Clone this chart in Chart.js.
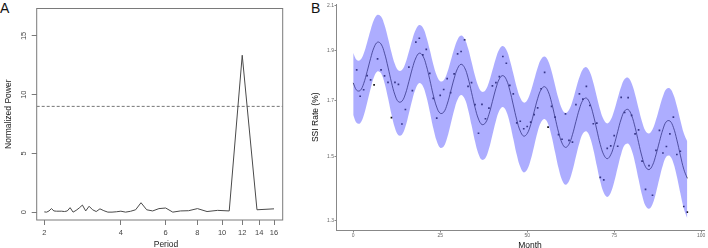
<!DOCTYPE html>
<html>
<head>
<meta charset="utf-8">
<script src="https://cdn.jsdelivr.net/npm/chart.js@4.4.1/dist/chart.umd.min.js"></script>
<style>
  html, body { margin: 0; padding: 0; background: #fff; width: 708px; height: 248px; overflow: hidden; }
  body { font-family: "Liberation Sans", Arial, sans-serif; }
  #wrap-a { position: absolute; left: 0; top: 0; width: 295px; height: 248px; }
  #wrap-b { position: absolute; left: 296px; top: 0; width: 412px; height: 248px; }
  .tag { position: absolute; font-size: 14px; line-height: 14px; color: #111; }
  .xtitle { position: absolute; font-size: 8.5px; line-height: 10px; color: #222; transform: translateX(-50%); white-space: nowrap; }
</style>
</head>
<body>
<div class="tag" style="left:0px;top:1.4px">A</div>
<div class="tag" style="left:311px;top:1.4px">B</div>
<div id="wrap-a"><canvas id="chart-a"></canvas></div>
<div id="wrap-b"><canvas id="chart-b"></canvas></div>
<div class="xtitle" style="left:166px;top:239.3px">Period</div>
<div class="xtitle" style="left:530px;top:240px;color:#111">Month</div>
<script>
// ---- Panel A: periodogram ----
const periodsA = [2.000, 2.043, 2.087, 2.133, 2.182, 2.233, 2.286, 2.341, 2.400, 2.462,
  2.526, 2.595, 2.667, 2.743, 2.824, 2.909, 3.000, 3.097, 3.200, 3.310,
  3.429, 3.556, 3.692, 3.840, 4.000, 4.174, 4.364, 4.571, 4.800, 5.053,
  5.333, 5.647, 6.000, 6.400, 6.857, 7.385, 8.000, 8.727, 9.600, 10.667,
  12.000, 13.714, 16.000];
const powerA = [0.02, 0.0, 0.1, 0.3, 0.1, 0.08, 0.08, 0.08, 0.05, 0.1,
  0.38, 0.0, 0.15, 0.35, 0.6, 0.1, 0.5, 0.2, 0.05, 0.28,
  0.12, 0.0, 0.0, 0.03, 0.08, 0.0, 0.07, 0.2, 0.8, 0.2,
  0.1, 0.3, 0.35, 0.0, 0.1, 0.12, 0.3, 0.05, 0.15, 0.1,
  13.35, 0.2, 0.28];
const thresholdA = 9;
const periodTicks = [2, 4, 6, 8, 10, 12, 14, 16];
const powerTicks = [0, 5, 10, 15];
const periodRange = [1.867, 17.31];
const powerRange = [-0.67, 17.33];

// ---- Panel B: SSI rate by month ----
const monthsFit = [0, 1, 2, 3, 4, 5, 6, 7, 8, 9, 10, 11, 12, 13, 14, 15, 16, 17, 18, 19,
  20, 21, 22, 23, 24, 25, 26, 27, 28, 29, 30, 31, 32, 33, 34, 35, 36, 37, 38, 39,
  40, 41, 42, 43, 44, 45, 46, 47, 48, 49, 50, 51, 52, 53, 54, 55, 56, 57, 58, 59,
  60, 61, 62, 63, 64, 65, 66, 67, 68, 69, 70, 71, 72, 73, 74, 75, 76, 77, 78, 79,
  80, 81, 82, 83, 84, 85, 86, 87, 88, 89, 90, 91, 92, 93, 94, 95, 96];
const ssiFit = [1.768, 1.739, 1.738, 1.765, 1.813, 1.867, 1.914, 1.936, 1.928, 1.889,
  1.831, 1.770, 1.721, 1.695, 1.697, 1.725, 1.773, 1.826, 1.869, 1.889,
  1.878, 1.838, 1.781, 1.721, 1.675, 1.652, 1.656, 1.686, 1.734, 1.785,
  1.826, 1.843, 1.829, 1.788, 1.731, 1.674, 1.631, 1.611, 1.617, 1.648,
  1.696, 1.746, 1.784, 1.797, 1.781, 1.739, 1.683, 1.628, 1.588, 1.570,
  1.579, 1.611, 1.658, 1.707, 1.742, 1.753, 1.735, 1.692, 1.637, 1.584,
  1.546, 1.531, 1.542, 1.575, 1.622, 1.668, 1.701, 1.709, 1.689, 1.646,
  1.592, 1.541, 1.506, 1.493, 1.506, 1.540, 1.586, 1.631, 1.661, 1.666,
  1.644, 1.601, 1.548, 1.499, 1.466, 1.457, 1.471, 1.506, 1.551, 1.594,
  1.622, 1.624, 1.601, 1.557, 1.505, 1.458, 1.429];
const ssiUpper = [1.890, 1.861, 1.860, 1.887, 1.935, 1.989, 2.036, 2.058, 2.050, 2.011,
  1.953, 1.892, 1.843, 1.817, 1.819, 1.847, 1.895, 1.948, 1.991, 2.011,
  2.000, 1.960, 1.903, 1.843, 1.797, 1.774, 1.778, 1.808, 1.856, 1.907,
  1.948, 1.965, 1.951, 1.910, 1.853, 1.796, 1.753, 1.733, 1.739, 1.770,
  1.818, 1.868, 1.906, 1.919, 1.903, 1.861, 1.805, 1.750, 1.710, 1.692,
  1.701, 1.733, 1.780, 1.829, 1.864, 1.875, 1.857, 1.814, 1.759, 1.706,
  1.668, 1.653, 1.664, 1.697, 1.744, 1.790, 1.823, 1.831, 1.811, 1.768,
  1.714, 1.663, 1.628, 1.615, 1.628, 1.662, 1.708, 1.753, 1.783, 1.788,
  1.766, 1.723, 1.670, 1.621, 1.588, 1.579, 1.593, 1.628, 1.673, 1.716,
  1.744, 1.746, 1.723, 1.679, 1.627, 1.580, 1.551];
const ssiLower = [1.646, 1.617, 1.616, 1.643, 1.691, 1.745, 1.792, 1.814, 1.806, 1.767,
  1.709, 1.648, 1.599, 1.573, 1.575, 1.603, 1.651, 1.704, 1.747, 1.767,
  1.756, 1.716, 1.659, 1.599, 1.553, 1.530, 1.534, 1.564, 1.612, 1.663,
  1.704, 1.721, 1.707, 1.666, 1.609, 1.552, 1.509, 1.489, 1.495, 1.526,
  1.574, 1.624, 1.662, 1.675, 1.659, 1.617, 1.561, 1.506, 1.466, 1.448,
  1.457, 1.489, 1.536, 1.585, 1.620, 1.631, 1.613, 1.570, 1.515, 1.462,
  1.424, 1.409, 1.420, 1.453, 1.500, 1.546, 1.579, 1.587, 1.567, 1.524,
  1.470, 1.419, 1.384, 1.371, 1.384, 1.418, 1.464, 1.509, 1.539, 1.544,
  1.522, 1.479, 1.426, 1.377, 1.344, 1.335, 1.349, 1.384, 1.429, 1.472,
  1.500, 1.502, 1.479, 1.435, 1.383, 1.336, 1.307];
const monthsObs = [1, 2, 3, 4, 5, 6, 7, 8, 9, 10, 11, 12, 13, 14, 15, 16, 17, 18, 19, 20,
  21, 22, 23, 24, 25, 26, 27, 28, 29, 30, 31, 32, 33, 34, 35, 36, 37, 38, 39, 40,
  41, 42, 43, 44, 45, 46, 47, 48, 49, 50, 51, 52, 53, 54, 55, 56, 57, 58, 59, 60,
  61, 62, 63, 64, 65, 66, 67, 68, 69, 70, 71, 72, 73, 74, 75, 76, 77, 78, 79, 80,
  81, 82, 83, 84, 85, 86, 87, 88, 89, 90, 91, 92, 93, 94, 95, 96];
const ssiObs = [1.820, 1.716, 1.741, 1.797, 1.780, 1.760, 1.865, 1.820, 1.796, 1.770,
  1.636, 1.770, 1.762, 1.613, 1.666, 1.831, 1.738, 1.936, 1.953, 1.882,
  1.905, 1.806, 1.708, 1.634, 1.719, 1.742, 1.785, 1.730, 1.804, 1.886,
  1.896, 1.946, 1.754, 1.769, 1.684, 1.580, 1.685, 1.632, 1.671, 1.756,
  1.769, 1.793, 1.875, 1.847, 1.758, 1.725, 1.617, 1.623, 1.596, 1.604,
  1.620, 1.647, 1.672, 1.745, 1.810, 1.602, 1.678, 1.638, 1.575, 1.559,
  1.650, 1.555, 1.549, 1.684, 1.725, 1.705, 1.754, 1.681, 1.614, 1.616,
  1.432, 1.424, 1.528, 1.536, 1.572, 1.535, 1.712, 1.655, 1.711, 1.644,
  1.578, 1.592, 1.485, 1.394, 1.470, 1.376, 1.521, 1.590, 1.512, 1.534,
  1.578, 1.638, 1.507, 1.518, 1.342, 1.325];
const monthTicks = [0, 25, 50, 75, 100];
const rateTicks = [1.3, 1.5, 1.7, 1.9, 2.1];
const monthRange = [-4.8, 100.8];
const rateRange = [1.272, 2.108];

const FONT = '"Liberation Sans", Arial, sans-serif';

function pairs(xs, ys) {
  return xs.map((x, i) => ({ x, y: ys[i] }));
}

// gray box round the plot region (base-graphics style)
const frameA = {
  id: 'frameA',
  afterDraw(chart) {
    const { ctx, chartArea: a } = chart;
    ctx.save();
    ctx.strokeStyle = '#7a7a7a';
    ctx.lineWidth = 1;
    ctx.strokeRect(a.left, a.top, a.right - a.left, a.bottom - a.top);
    ctx.restore();
  },
};

function renderPeriodogram() {
  const canvas = document.getElementById('chart-a');
  new Chart(canvas, {
    type: 'line',
    data: {
      datasets: [
        {
          data: pairs(periodsA, powerA),
          borderColor: '#4a4a4a',
          borderWidth: 1,
          pointRadius: 0,
          tension: 0,
        },
        {
          data: pairs(periodRange, [thresholdA, thresholdA]),
          borderColor: '#666',
          borderWidth: 0.9,
          borderDash: [3, 2],
          pointRadius: 0,
        },
      ],
    },
    options: {
      animation: false,
      responsive: true,
      maintainAspectRatio: false,
      layout: { padding: { top: 1, right: 12.3, left: 0, bottom: 0 } },
      plugins: { legend: { display: false }, tooltip: { enabled: false } },
      scales: {
        x: {
          type: 'logarithmic',
          min: periodRange[0],
          max: periodRange[1],
          afterBuildTicks: s => { s.ticks = periodTicks.map(v => ({ value: v })); },
          afterFit: s => { s.height = 28; },
          ticks: {
            callback: v => String(v),
            autoSkip: false, maxRotation: 0,
            font: { family: FONT, size: 7.5 }, color: '#444', padding: 3,
          },
          grid: { drawOnChartArea: false, tickLength: 5, color: '#7a7a7a' },
          border: { display: false },
        },
        y: {
          min: powerRange[0],
          max: powerRange[1],
          afterBuildTicks: s => { s.ticks = powerTicks.map(v => ({ value: v })); },
          afterFit: s => { s.width = 36.7; },
          ticks: {
            minRotation: 90, maxRotation: 90, crossAlign: 'center',
            font: { family: FONT, size: 7.5 }, color: '#444', padding: 4,
          },
          grid: { drawOnChartArea: false, tickLength: 5, color: '#7a7a7a' },
          border: { display: false },
          title: {
            display: true, text: 'Normalized Power', color: '#222',
            font: { family: FONT, size: 8.5 }, padding: { top: 3.2, bottom: 0 },
          },
        },
      },
    },
    plugins: [frameA],
  });
}

function renderSSI() {
  const canvas = document.getElementById('chart-b');
  const band = 'rgba(92, 92, 255, 0.5)';
  new Chart(canvas, {
    type: 'line',
    data: {
      datasets: [
        {
          data: pairs(monthsFit, ssiUpper),
          borderWidth: 0,
          pointRadius: 0,
          tension: 0.4,
          fill: '+1',
          backgroundColor: band,
        },
        {
          data: pairs(monthsFit, ssiLower),
          borderWidth: 0,
          pointRadius: 0,
          tension: 0.4,
          fill: false,
        },
        {
          data: pairs(monthsFit, ssiFit),
          borderColor: '#111',
          borderWidth: 0.8,
          pointRadius: 0,
          tension: 0.4,
        },
        {
          data: pairs(monthsObs, ssiObs),
          showLine: false,
          pointStyle: 'rect',
          pointRadius: 1.2,
          pointBorderWidth: 0,
          pointBackgroundColor: '#111',
        },
      ],
    },
    options: {
      animation: false,
      responsive: true,
      maintainAspectRatio: false,
      layout: { padding: { top: 3, right: 1.9, left: 0, bottom: 0 } },
      plugins: { legend: { display: false }, tooltip: { enabled: false } },
      scales: {
        x: {
          type: 'linear',
          min: monthRange[0],
          max: monthRange[1],
          afterBuildTicks: s => { s.ticks = monthTicks.map(v => ({ value: v })); },
          afterFit: s => { s.height = 17.5; },
          ticks: {
            callback: v => String(v), autoSkip: false, maxRotation: 0,
            font: { family: FONT, size: 5 }, color: '#666', padding: 0.5,
          },
          grid: { drawOnChartArea: false, tickLength: 2, color: '#888' },
          border: { display: true, color: '#888', width: 1 },
        },
        y: {
          type: 'logarithmic',
          min: rateRange[0],
          max: rateRange[1],
          afterBuildTicks: s => { s.ticks = rateTicks.map(v => ({ value: v })); },
          afterFit: s => { s.width = 40.5; },
          ticks: {
            callback: v => Number(v).toFixed(1),
            font: { family: FONT, size: 5 }, color: '#666', padding: 0.5,
          },
          grid: { drawOnChartArea: false, tickLength: 2, color: '#888' },
          border: { display: true, color: '#888', width: 1 },
          title: {
            display: true, text: 'SSI Rate (%)', color: '#111',
            font: { family: FONT, size: 8.5 }, padding: { top: 14.6, bottom: 0 },
          },
        },
      },
    },
  });
}

renderPeriodogram();
renderSSI();
</script>
</body>
</html>
